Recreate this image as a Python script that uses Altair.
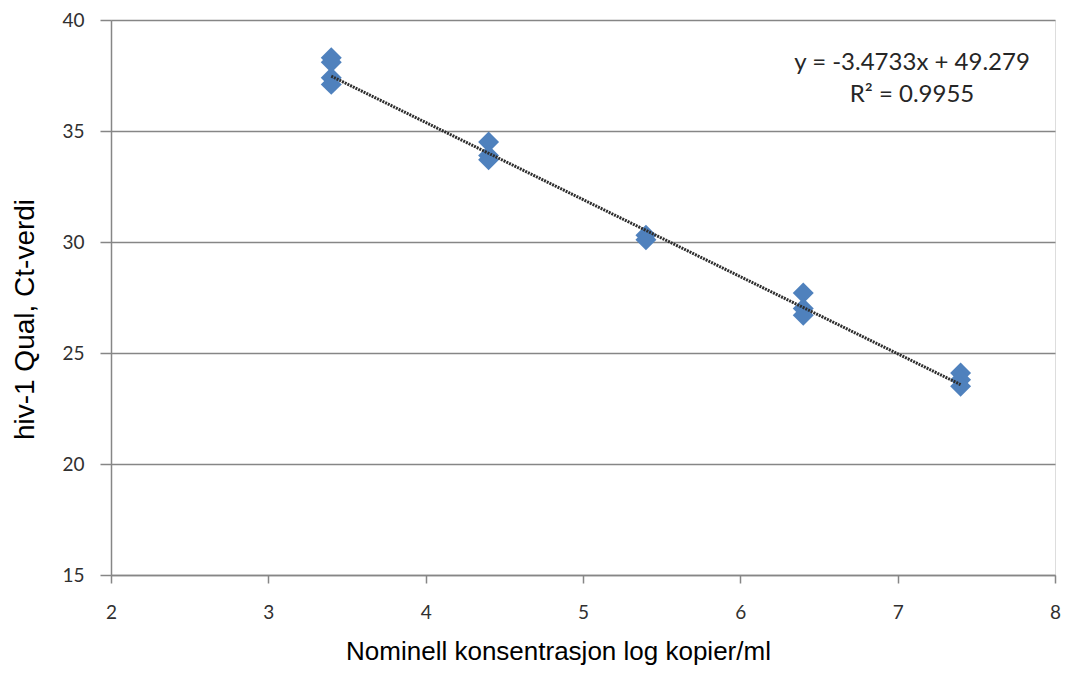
import altair as alt
import pandas as pd

# measured points (log copies/ml vs Ct value)
x_vals = [3.4, 3.4, 3.4, 3.4, 4.4, 4.4, 4.4, 5.4, 5.4, 6.4, 6.4, 6.4, 7.4, 7.4, 7.4]
ct_vals = [38.3, 38.1, 37.4, 37.1, 34.5, 33.9, 33.7, 30.3, 30.1, 27.7, 27.0, 26.7, 24.1, 23.8, 23.5]

slope = -3.4733
intercept = 49.279
eq_lines = ["y = -3.4733x + 49.279", "R² = 0.9955"]

pts = pd.DataFrame({"x": x_vals, "ct": ct_vals})
x_ends = [min(x_vals), max(x_vals)]
trend = pd.DataFrame({"x": x_ends, "ct": [slope * v + intercept for v in x_ends]})

W, H = 944, 555

xscale = alt.Scale(domain=[2, 8], nice=False, zero=False)
yscale = alt.Scale(domain=[15, 40], nice=False, zero=False)

xaxis = alt.Axis(
    title="Nominell konsentrasjon log kopier/ml",
    values=[2, 3, 4, 5, 6, 7, 8], format="d", grid=False, labelFlush=False,
    tickSize=8, tickColor="#868686", tickWidth=1.5,
    domainColor="#868686", domainWidth=1.5,
    labelFont="Lato", labelFontSize=19, labelColor="#303030", labelPadding=20,
    titleFont="Liberation Sans", titleFontSize=26, titleFontWeight="normal",
    titleColor="#000000", titlePadding=16, titleX=447, titleAlign="center",
)
yaxis = alt.Axis(
    title="hiv-1 Qual, Ct-verdi",
    values=[15, 20, 25, 30, 35, 40], format="d", grid=True, labelFlush=False,
    gridColor="#868686", gridWidth=1.5,
    tickSize=11, tickColor="#868686", tickWidth=1.5,
    domainColor="#868686", domainWidth=1.5,
    labelFont="Lato", labelFontSize=19, labelColor="#303030", labelPadding=16,
    titleFont="Liberation Sans", titleFontSize=28, titleFontWeight="normal",
    titleColor="#000000", titlePadding=22, titleY=299, titleAlign="center",
)

points = alt.Chart(pts).mark_point(
    shape="diamond", filled=True, size=440, color="#4f81bd", opacity=1
).encode(
    x=alt.X("x:Q", scale=xscale, axis=xaxis),
    y=alt.Y("ct:Q", scale=yscale, axis=yaxis),
)

line = alt.Chart(trend).mark_line(
    color="#2e2e2e", strokeWidth=3, strokeDash=[2, 1]
).encode(
    x=alt.X("x:Q", scale=xscale),
    y=alt.Y("ct:Q", scale=yscale),
)

text_layers = []
for label, ypix in zip(eq_lines, [43, 75]):
    text_layers.append(
        alt.Chart(pd.DataFrame({"t": [label]})).mark_text(
            font="Lato", fontSize=24, color="#262626", align="center", baseline="middle"
        ).encode(text="t:N", x=alt.value(801), y=alt.value(ypix))
    )

chart = alt.layer(points, line, *text_layers).properties(
    width=W, height=H,
    autosize=alt.AutoSizeParams(type="none"),
    padding={"left": 103, "top": 12, "right": 7, "bottom": 94},
).configure_view(stroke=None).configure(background="white")

chart.save("out.html", embed_options={"renderer": "svg", "actions": False})
